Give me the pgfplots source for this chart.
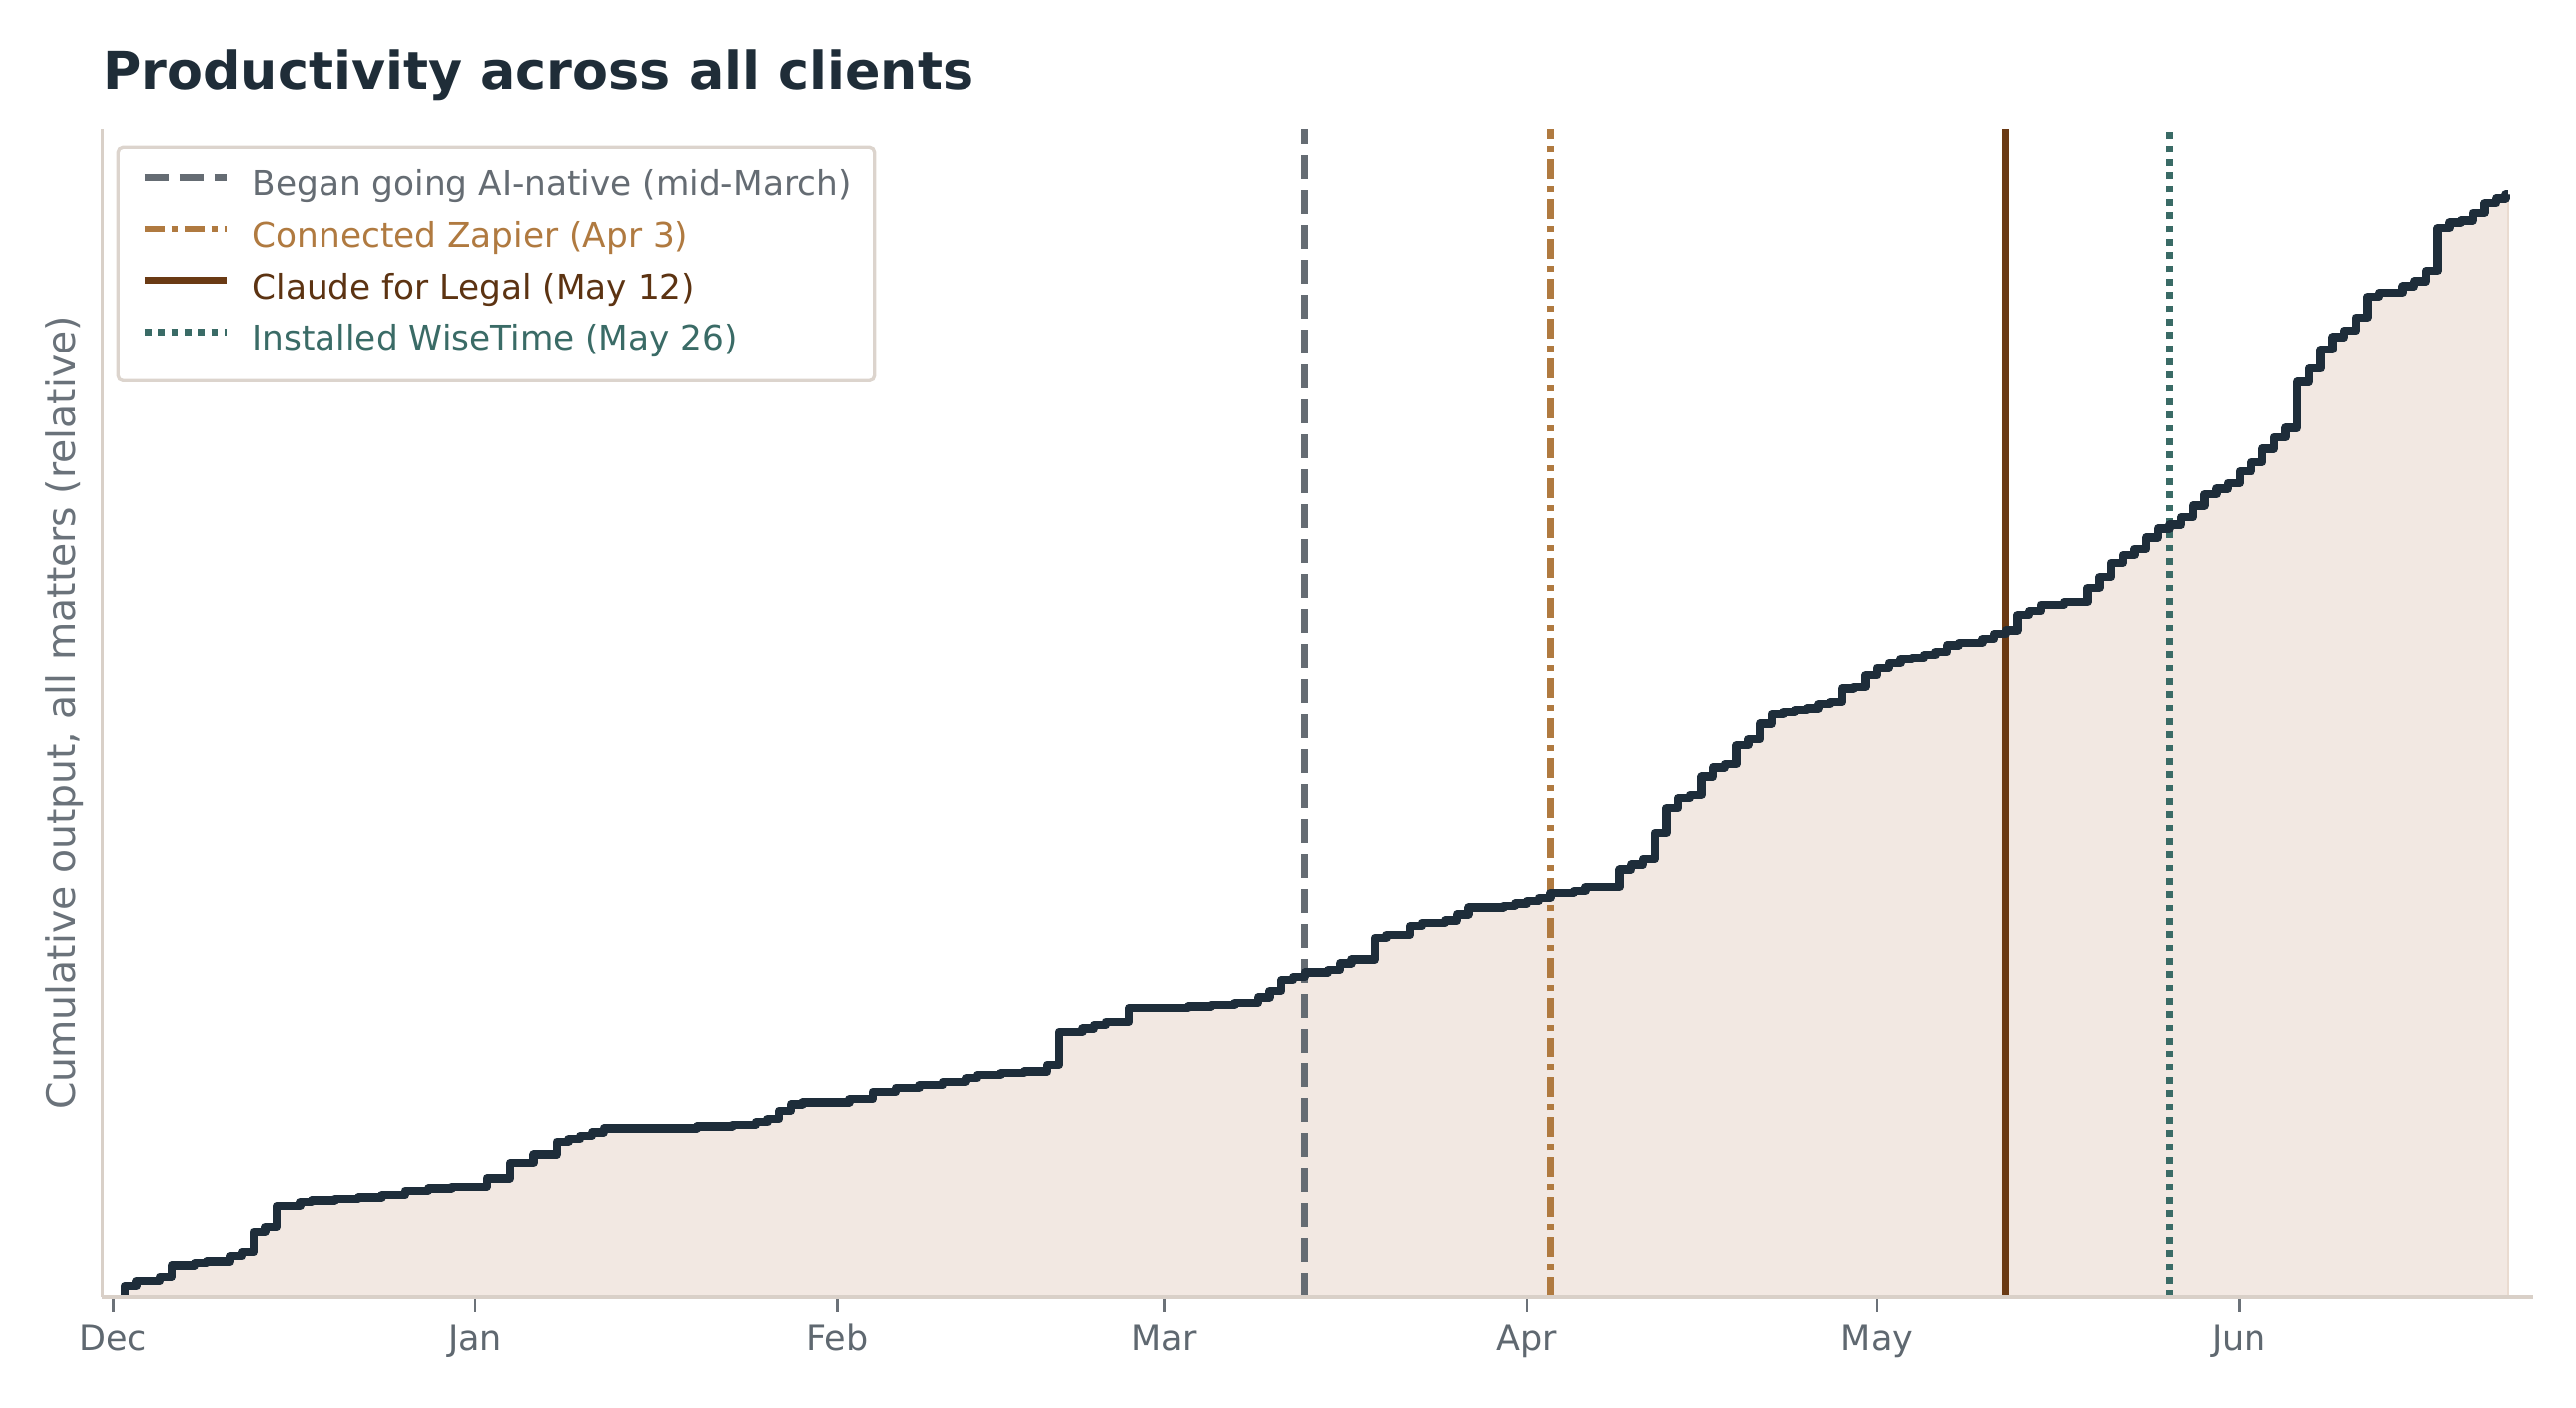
\documentclass[border=0pt]{standalone}
\usepackage{fontspec}
\setmainfont{DejaVu Sans}
\usepackage{pgfplots}
\usepackage{pgfplotstable}
\pgfplotsset{compat=1.18}
\definecolor{stepc}{HTML}{1E2D3A}
\definecolor{fillc}{HTML}{F2E8E2}
\definecolor{fedge}{HTML}{EADBD0}
\definecolor{spine}{HTML}{D9D0C8}
\definecolor{tickc}{HTML}{6B7178}
\definecolor{labc}{HTML}{5F6870}
\definecolor{ylabc}{HTML}{6A727A}
\definecolor{titc}{HTML}{1F2D38}
\definecolor{cgray}{HTML}{656C73}
\definecolor{corange}{HTML}{B07A40}
\definecolor{cbrown}{HTML}{6A3A14}
\definecolor{cbrowntxt}{HTML}{5C3312}
\definecolor{cteal}{HTML}{3A6B66}
\definecolor{legdraw}{HTML}{DCD4CD}

\pgfplotstableread{
day v
1 0
1 6.6
2 9.7
4 12.3
5 19.1
7 20.6
8 21.6
10 24.7
11 27.2
12 39.5
13 42.6
14 55.1
16 57.6
17 58.6
19 59.5
21 60.3
23 61.7
25 64.4
27 65.8
29 66.9
32 72.0
34 81.3
36 86.4
38 94.2
39 95.7
40 97.7
41 99.8
42 102.2
50 103.5
53 104.5
55 106.0
56 108.0
57 113.0
58 116.8
59 118.0
63 120.0
65 124.4
67 127.0
69 128.6
71 130.5
73 132.7
74 134.7
76 135.8
78 136.8
80 140.9
81 161.5
83 163.5
84 165.6
85 167.6
87 175.9
92 176.8
94 177.8
96 179.0
98 182.3
99 186.4
100 192.8
101 194.7
102 197.5
104 199.0
105 203.0
106 205.4
108 218.5
109 220.4
111 225.6
112 227.5
114 229.0
115 232.8
116 237.0
119 238.0
120 239.4
121 241.0
122 242.8
123 245.9
125 247.0
126 249.4
129 260.0
130 263.0
131 266.4
132 282.1
133 297.3
134 303.3
135 305.3
136 316.4
137 322.0
138 324.0
139 335.5
140 339.2
141 348.6
142 354.3
143 355.7
144 356.7
145 357.7
146 360.3
147 361.7
148 369.8
149 370.8
150 377.9
151 382.5
152 385.3
153 387.9
154 388.3
155 390.0
156 392.0
157 396.0
158 397.5
160 399.8
161 402.8
162 405.0
163 414.4
164 416.7
165 420.7
167 422.3
169 431.0
170 437.6
171 446.1
172 450.7
173 454.7
174 461.6
175 467.0
176 469.3
177 473.9
178 480.9
179 487.8
180 491.3
181 494.7
182 501.7
183 507.5
184 515.6
185 522.5
186 528.3
187 556.1
188 564.2
189 575.8
190 583.4
191 587.3
192 595.4
193 608.2
194 610.5
196 614.4
197 617.4
198 623.7
199 649.8
200 653.3
201 654.5
202 659.1
203 664.9
204 667.9
204.8 670.2
205 670.2
}\cum

\begin{document}
\begin{tikzpicture}
\useasboundingbox (-30.75pt,-33.3pt) rectangle (743.25pt,389.7pt);
\begin{axis}[
  at={(0,0)}, anchor=south west,
  scale only axis, width=730.35pt, height=351pt,
  xmin=-0.92, xmax=207.15, ymin=0, ymax=710,
  axis x line*=bottom, axis y line*=left,
  axis line style={draw=spine, line width=1pt},
  axis on top,
  xtick={0,31,62,90,121,151,182},
  xticklabels={Dec,Jan,Feb,Mar,Apr,May,Jun},
  ytick=\empty,
  tick align=outside,
  major tick length=4.5pt,
  tick style={draw=tickc, line width=0.8pt},
  xticklabel style={font=\fontsize{10.5}{12}\selectfont, text=labc, anchor=base, yshift=-11.6pt},
  ylabel={Cumulative output, all matters (relative)},
  ylabel style={at={(axis description cs:-0.0157,0.5)}, anchor=center, font=\fontsize{11.8}{14}\selectfont, text=ylabc},
  title={Productivity across all clients},
  title style={at={(axis description cs:0,1)}, anchor=base west, inner sep=0pt, yshift=5.95pt, font=\fontsize{15.7}{18}\selectfont\bfseries, text=titc},
  legend style={at={(axis description cs:0.0058,0.9858)}, anchor=north west, draw=legdraw, line width=1pt, rounded corners=1.5pt, fill=white, inner xsep=7pt, inner ysep=6.6pt, column sep=6.6pt, row sep=5pt, font=\fontsize{10.3}{12}\selectfont, nodes={inner sep=0pt, text height=8pt, text depth=2.5pt}},
  legend cell align=left,
  legend image code/.code={\draw[#1] (0pt,2.8pt) -- (24.7pt,2.8pt);},
]
\addplot[draw=fedge, line width=0.6pt, fill=fillc, const plot, forget plot] table[x=day, y=v] {\cum} \closedcycle;

\addplot[cgray, line width=2pt, dash pattern=on 7.2pt off 3.3pt] coordinates {(102,0) (102,710)};
\addlegendentry{\textcolor{cgray}{Began going AI-native (mid-March)}}
\addplot[corange, line width=2pt, dash pattern=on 6pt off 2pt on 2pt off 2pt] coordinates {(123,0) (123,710)};
\addlegendentry{\textcolor{corange}{Connected Zapier (Apr 3)}}
\addplot[cbrown, line width=2pt] coordinates {(162,0) (162,710)};
\addlegendentry{\textcolor{cbrowntxt}{Claude for Legal (May 12)}}
\addplot[cteal, line width=2pt, dash pattern=on 2pt off 2pt] coordinates {(176,0) (176,710)};
\addlegendentry{\textcolor{cteal}{Installed WiseTime (May 26)}}

\addplot[stepc, line width=2.5pt, const plot, line join=round, forget plot] table[x=day, y=v] {\cum};
\end{axis}
\end{tikzpicture}
\end{document}
